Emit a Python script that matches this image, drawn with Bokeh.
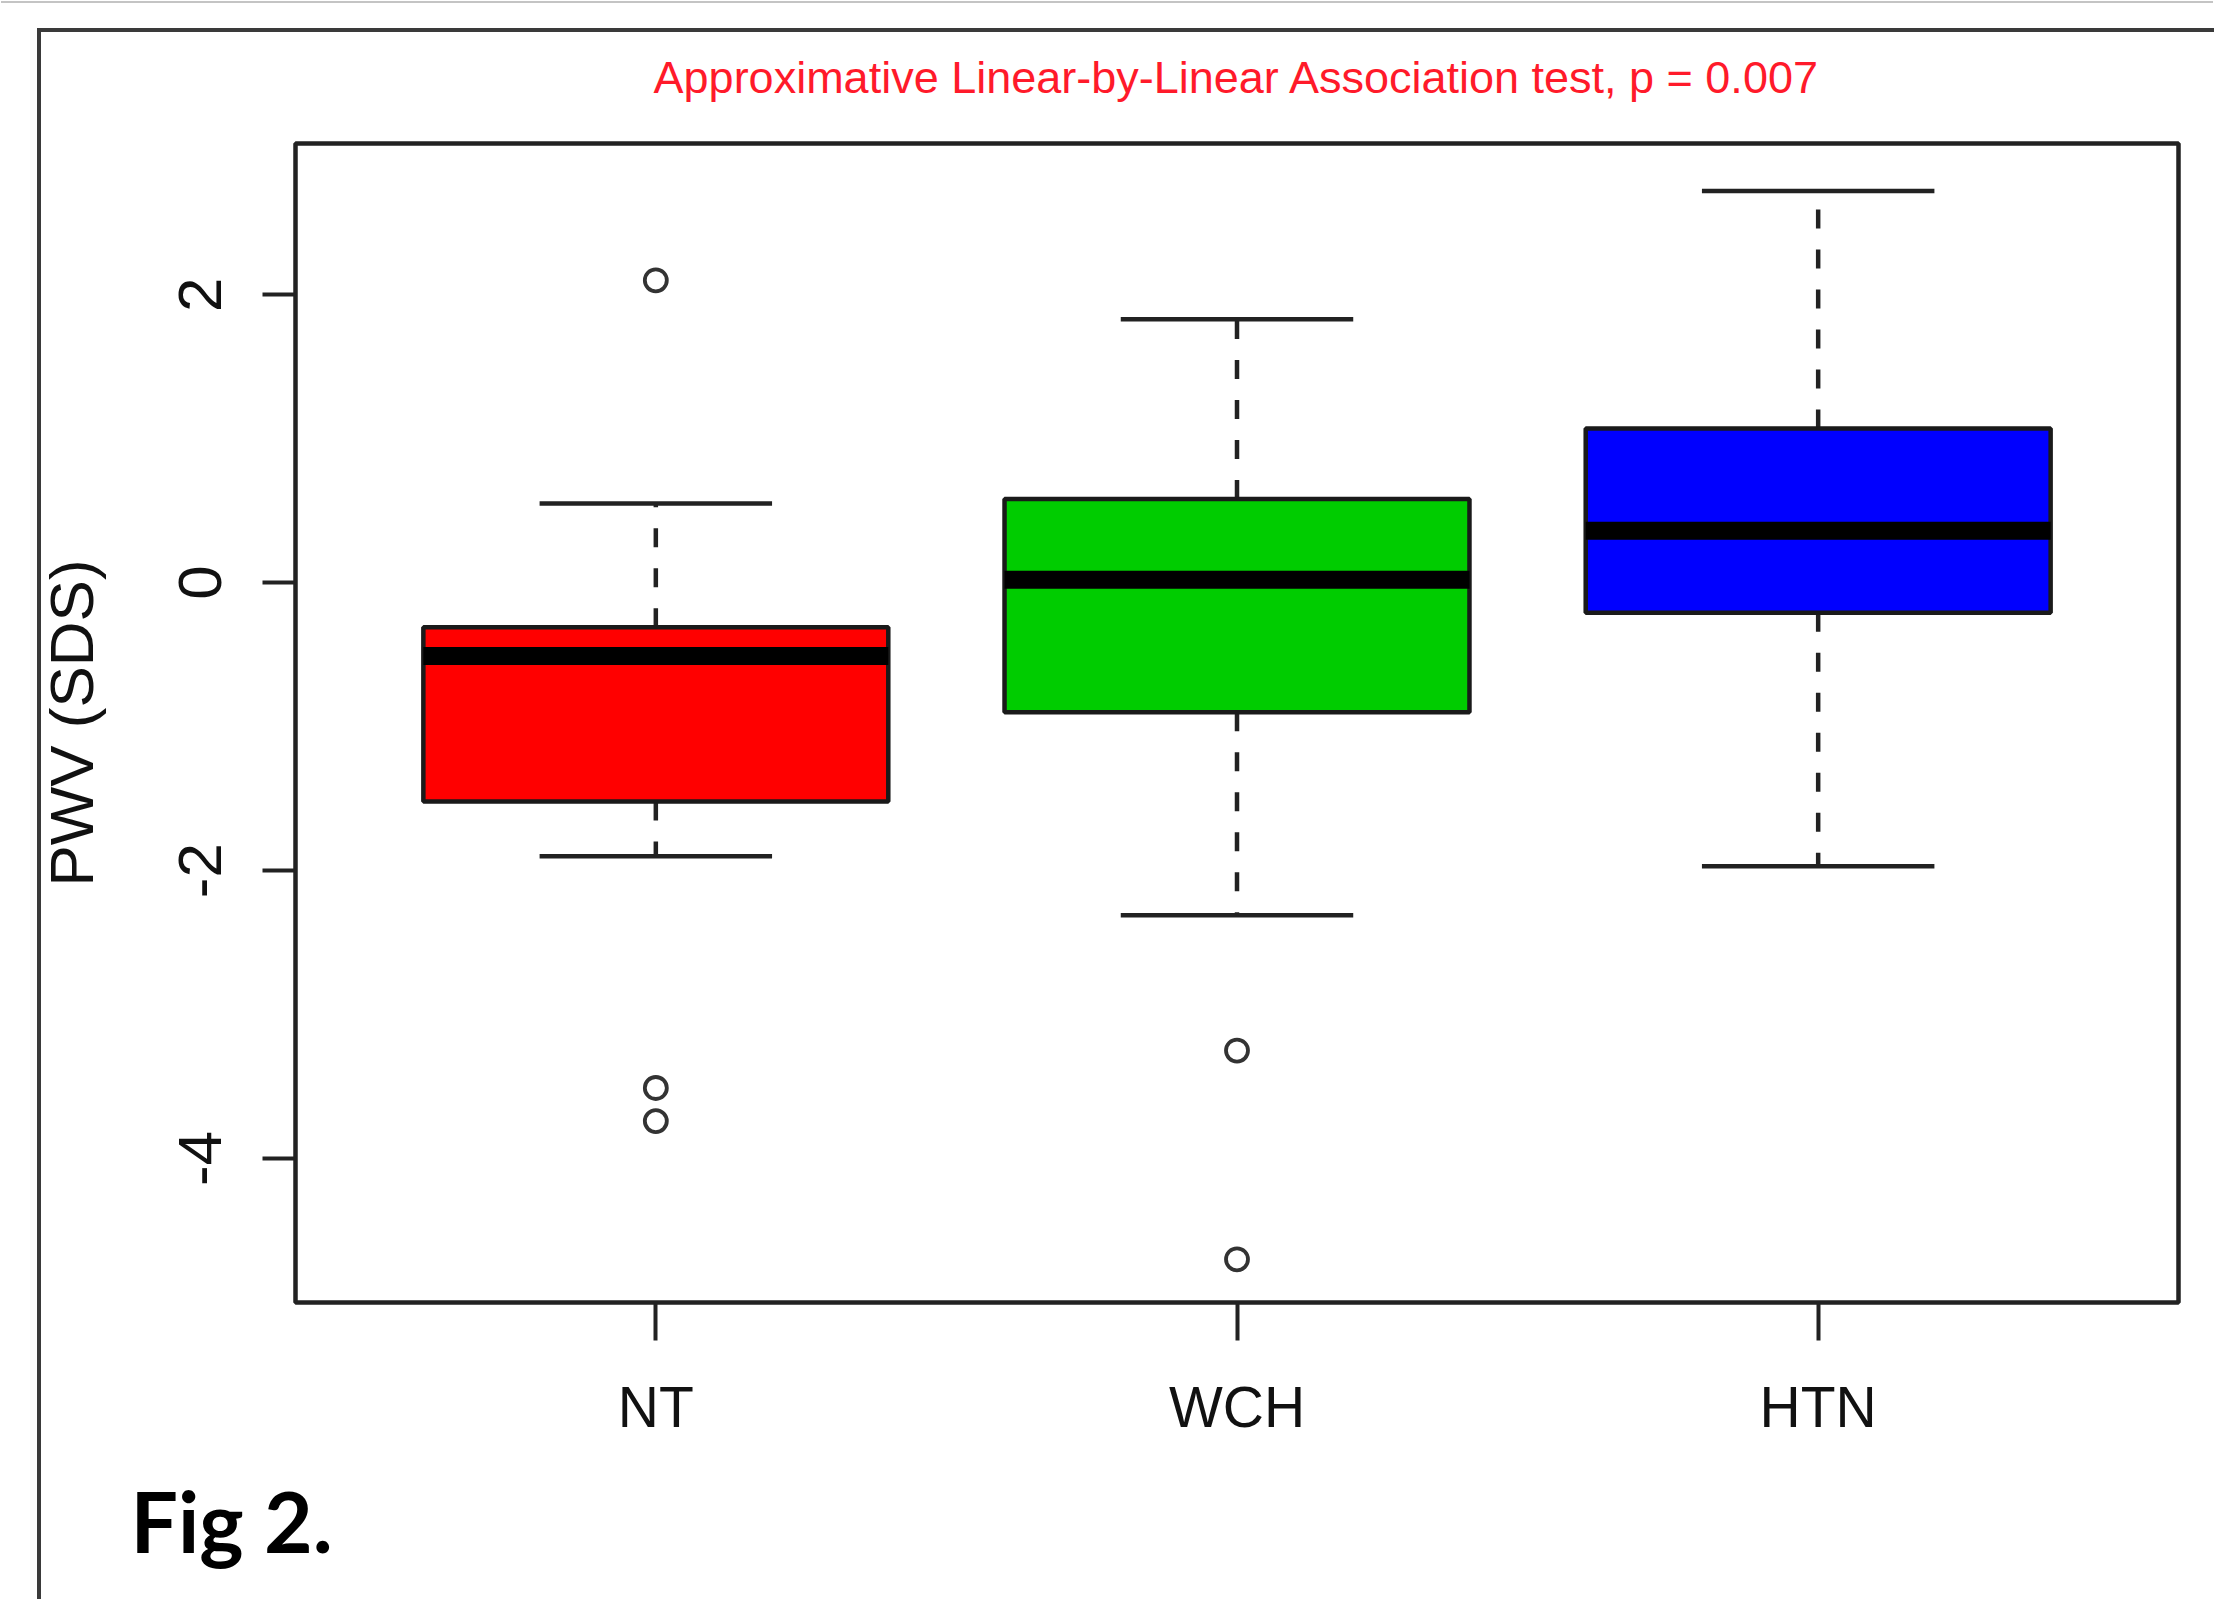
from bokeh.plotting import figure
from bokeh.models import Range1d, FixedTicker, ColumnDataSource, Title, InlineStyleSheet
from bokeh.embed import file_html
from bokeh.resources import INLINE

# ---- data ----
groups = ["NT", "WCH", "HTN"]
whisker_low = [-1.90, -2.31, -1.97]
q1 = [-1.52, -0.90, -0.21]
median = [-0.51, 0.02, 0.36]
q3 = [-0.31, 0.58, 1.07]
whisker_high = [0.55, 1.83, 2.72]
box_colors = ["#FF0000", "#00CC00", "#0000FF"]
outlier_group = ["NT", "NT", "NT", "WCH", "WCH"]
outlier_value = [2.10, -3.51, -3.74, -3.25, -4.70]
y_ticks = [-4, -2, 0, 2]
title_text = "Approximative Linear-by-Linear Association test, p = 0.007"
y_label = "PWV (SDS)"
fig_label = "Fig 2."

pos = [groups.index(g) + 1 for g in groups]
opos = [groups.index(g) + 1 for g in outlier_group]
half_box = 0.4
half_cap = 0.2

W, H = 2214, 1599
p = figure(width=W, height=H, output_backend="svg", toolbar_location=None,
           x_range=Range1d(0.38, 3.62), y_range=Range1d(-5.0, 3.05),
           min_border_left=295, min_border_right=W - 2178, min_border_top=143,
           min_border_bottom=H - 1302)
p.background_fill_color = "white"
p.border_fill_color = "white"
p.grid.visible = False
p.outline_line_color = "#222222"
p.outline_line_width = 4.5

# outer page frame (left + top rule) drawn with CSS on the figure host
p.stylesheets = [InlineStyleSheet(css="""
:host { position: relative; }
:host::before { content: ""; position: absolute; left: 37px; top: 28px; width: 4px;
  height: calc(100% - 28px); background: #3a3a3a; z-index: 10; pointer-events: none; }
:host::after { content: ""; position: absolute; left: 37px; top: 28px; height: 4px;
  width: calc(100% - 37px); background: #3a3a3a; z-index: 10; pointer-events: none;
  box-shadow: -37px -28px 0 -1px #c4c4c4, 0 -28px 0 -1px #c4c4c4; }
""")]

# title
p.title.text = title_text
p.title.align = "center"
p.title.text_color = "#FF1A2A"
p.title.text_font = "Liberation Sans"
p.title.text_font_size = "45px"
p.title.text_font_style = "normal"
p.title.standoff = 82

# axes
for ax in (p.xaxis[0], p.yaxis[0]):
    ax.axis_line_color = None
    ax.major_tick_in = 0
    ax.minor_tick_line_color = None
    ax.major_tick_line_color = "#222222"
    ax.major_tick_line_width = 4
    ax.major_label_text_color = "#111111"
    ax.major_label_text_font_style = "normal"

p.xaxis.ticker = FixedTicker(ticks=pos)
p.xaxis.major_label_overrides = {i + 1: g for i, g in enumerate(groups)}
p.xaxis.major_tick_out = 38
p.xaxis.major_label_standoff = 34
p.xaxis.major_label_text_font = "Liberation Sans"
p.xaxis.major_label_text_font_size = "57px"

p.yaxis.ticker = FixedTicker(ticks=y_ticks)
p.yaxis.major_label_overrides = {t: str(t) for t in y_ticks}
p.yaxis.major_tick_out = 33
p.yaxis.major_label_standoff = 41
p.yaxis.major_label_orientation = "vertical"
p.yaxis.major_label_text_font = "Liberation Sans"
p.yaxis.major_label_text_font_size = "62px"
p.yaxis.axis_label = y_label
p.yaxis.axis_label_text_font = "Liberation Sans"
p.yaxis.axis_label_text_font_size = "62px"
p.yaxis.axis_label_text_font_style = "normal"
p.yaxis.axis_label_text_color = "#111111"
p.yaxis.axis_label_standoff = 71

src = ColumnDataSource(dict(
    x=pos,
    xl=[x - half_box for x in pos], xr=[x + half_box for x in pos],
    cl=[x - half_cap for x in pos], cr=[x + half_cap for x in pos],
    lo=whisker_low, q1=q1, med=median, q3=q3, hi=whisker_high, color=box_colors))

# whiskers (dashed), drawn from hinge outward
p.segment(x0="x", y0="q3", x1="x", y1="hi", source=src, line_color="#222222",
          line_width=4.5, line_dash="19 21", line_cap="butt")
p.segment(x0="x", y0="q1", x1="x", y1="lo", source=src, line_color="#222222",
          line_width=4.5, line_dash="19 21", line_cap="butt")
# caps
p.segment(x0="cl", y0="hi", x1="cr", y1="hi", source=src, line_color="#222222", line_width=4.5)
p.segment(x0="cl", y0="lo", x1="cr", y1="lo", source=src, line_color="#222222", line_width=4.5)
# boxes
p.quad(left="xl", right="xr", bottom="q1", top="q3", source=src, fill_color="color",
       line_color="#1a1a1a", line_width=4.5)
# medians
p.segment(x0="xl", y0="med", x1="xr", y1="med", source=src, line_color="black",
          line_width=18, line_cap="butt")
# outliers
p.scatter(x=opos, y=outlier_value, marker="circle", size=22, fill_color=None,
          line_color="#333333", line_width=3.8)

# "Fig 2." caption below the axis
p.add_layout(Title(text=fig_label, align="left", offset=130 - 295, standoff=52,
                   text_font="Lato", text_font_style="bold", text_font_size="84px",
                   text_color="black"), "below")

open("out.html", "w").write(file_html(p, INLINE))
